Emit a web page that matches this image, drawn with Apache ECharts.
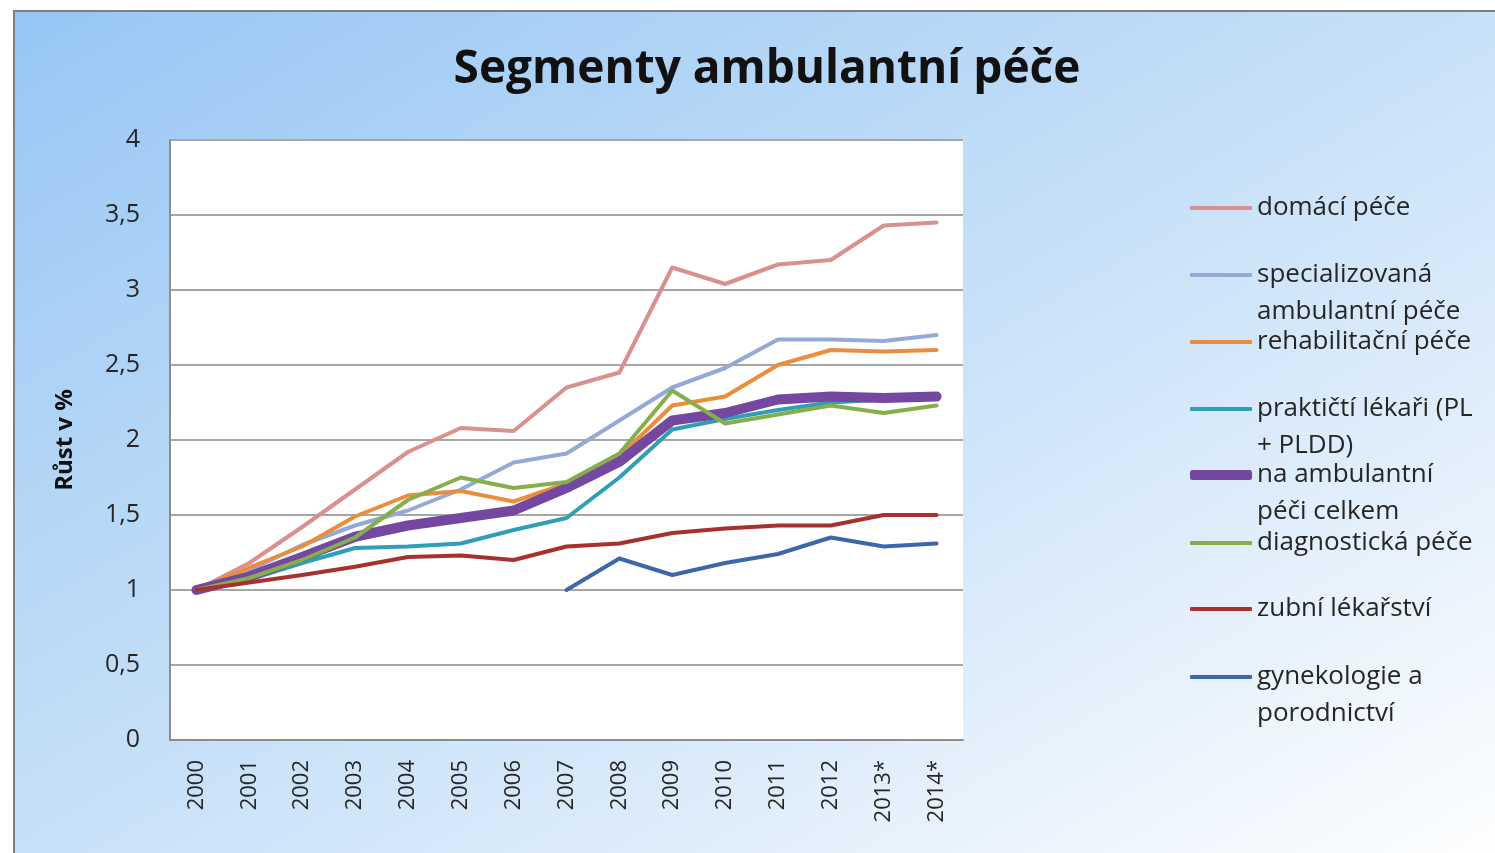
<!DOCTYPE html>
<html lang="cs">
<head>
    <meta charset="UTF-8">
    <title>Segmenty ambulantní péče</title>
    <script src="https://cdn.jsdelivr.net/npm/echarts@6/dist/echarts.min.js" type="text/javascript"></script>
    <style>
        html, body { margin: 0; padding: 0; background: #fff; }
        #chart { width: 1495px; height: 853px; }
    </style>
</head>
<body>
<div id="chart"></div>
<script type="text/javascript">
    var roky = ['2000', '2001', '2002', '2003', '2004', '2005', '2006', '2007', '2008', '2009', '2010', '2011', '2012', '2013*', '2014*'];
    var domaciPece = [1.0, 1.18, 1.42, 1.67, 1.92, 2.08, 2.06, 2.35, 2.45, 3.15, 3.04, 3.17, 3.2, 3.43, 3.45];
    var specializovana = [1.0, 1.13, 1.3, 1.43, 1.53, 1.67, 1.85, 1.91, 2.13, 2.35, 2.48, 2.67, 2.67, 2.66, 2.7];
    var rehabilitacni = [1.0, 1.15, 1.29, 1.49, 1.63, 1.66, 1.59, 1.71, 1.89, 2.23, 2.29, 2.5, 2.6, 2.59, 2.6];
    var prakticti = [1.0, 1.07, 1.18, 1.28, 1.29, 1.31, 1.4, 1.48, 1.75, 2.07, 2.14, 2.2, 2.25, 2.27, 2.28];
    var celkem = [1.0, 1.09, 1.22, 1.355, 1.43, 1.48, 1.53, 1.68, 1.855, 2.13, 2.18, 2.27, 2.29, 2.28, 2.29];
    var diagnosticka = [1.0, 1.08, 1.2, 1.35, 1.6, 1.75, 1.68, 1.72, 1.91, 2.33, 2.11, 2.17, 2.23, 2.18, 2.23];
    var zubni = [1.0, 1.05, 1.1, 1.155, 1.22, 1.23, 1.2, 1.29, 1.31, 1.38, 1.41, 1.43, 1.43, 1.5, 1.5];
    var gynekologie = [null, null, null, null, null, null, null, 1.0, 1.21, 1.1, 1.18, 1.24, 1.35, 1.29, 1.31];

    var nazvy = ['domácí péče', 'specializovaná\nambulantní péče', 'rehabilitační péče', 'praktičtí lékaři (PL\n+ PLDD)',
        'na ambulantní\npéči celkem', 'diagnostická péče', 'zubní lékařství', 'gynekologie a\nporodnictví'];
    var data = [domaciPece, specializovana, rehabilitacni, prakticti, celkem, diagnosticka, zubni, gynekologie];
    var barvy = ['#d8918f', '#95a9d6', '#eb8e3c', '#2f9fb5', '#7448a0', '#86ae4a', '#a8302e', '#3c68aa'];
    var tloustky = [4, 4, 4, 4, 10, 4, 4, 4];
    // y-stred prvniho radku polozky legendy
    var legendaY = [208, 275, 342, 409, 475, 543, 609, 677];
    var radek = 37;

    var font = '"Open Sans", sans-serif';
    var chart = echarts.init(document.getElementById('chart'));

    var series = [];
    var legend = [];
    for (var i = 0; i < nazvy.length; i++) {
        series.push({
            name: nazvy[i],
            type: 'line',
            data: data[i],
            symbol: 'none',
            connectNulls: false,
            color: barvy[i],
            lineStyle: { width: tloustky[i], color: barvy[i], cap: 'round', join: 'round' }
        });
        var dvaRadky = nazvy[i].indexOf('\n') >= 0;
        legend.push({
            left: 1190,
            // dvouradkove polozky maji navic prazdny radek nahore, aby ikona byla u prvniho radku
            top: dvaRadky ? legendaY[i] - radek * 1.5 : legendaY[i] - radek / 2,
            padding: 0,
            icon: 'roundRect',
            itemWidth: 62,
            itemHeight: tloustky[i],
            selectedMode: false,
            data: [nazvy[i]],
            formatter: function (name) {
                return name.indexOf('\n') >= 0 ? ' \n' + name : name;
            },
            textStyle: { fontFamily: font, fontSize: 26, lineHeight: radek, color: '#262626' }
        });
    }

    chart.setOption({
        animation: false,
        graphic: [{
            type: 'rect',
            left: 13, top: 10,
            shape: { width: 1500, height: 860 },
            z: -10,
            style: {
                fill: new echarts.graphic.LinearGradient(13, 10, 747, 1291, [
                    { offset: 0, color: '#98c7f5' },
                    { offset: 0.5, color: '#c9e1f8' },
                    { offset: 1, color: '#ffffff' }
                ], true),
                stroke: '#7f7f7f',
                lineWidth: 2
            }
        }],
        title: {
            text: 'Segmenty ambulantní péče',
            left: 762,
            textAlign: 'center',
            top: 42,
            textStyle: { fontFamily: font, fontSize: 46, fontWeight: 'bold', color: '#111' }
        },
        legend: legend,
        grid: {
            left: 170, top: 140, width: 793, height: 600,
            show: true, backgroundColor: '#ffffff', borderWidth: 0
        },
        xAxis: {
            type: 'category',
            data: roky,
            boundaryGap: true,
            axisLine: { lineStyle: { color: '#8c8c8c', width: 2 } },
            axisTick: { show: false },
            axisLabel: {
                rotate: 90, margin: 20,
                fontFamily: font, fontSize: 22, color: '#262626'
            }
        },
        yAxis: {
            type: 'value',
            min: 0, max: 4, interval: 0.5,
            name: 'Růst v %',
            nameLocation: 'middle',
            nameGap: 93,
            nameTextStyle: { fontFamily: font, fontSize: 24, fontWeight: 'bold', color: '#111' },
            axisLine: { show: true, lineStyle: { color: '#8c8c8c', width: 2 } },
            axisTick: { show: false },
            splitLine: { lineStyle: { color: '#a6a6a6', width: 2 } },
            axisLabel: {
                margin: 30,
                fontFamily: font, fontSize: 25, color: '#262626',
                formatter: function (v) { return String(v).replace('.', ','); }
            }
        },
        series: series
    });
</script>
</body>
</html>
